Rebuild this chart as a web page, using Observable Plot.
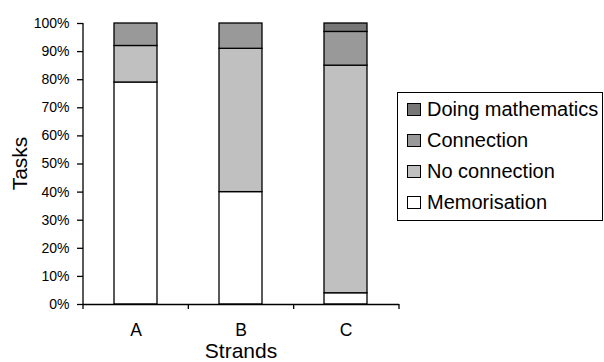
<!DOCTYPE html>
<html>
<head>
<meta charset="utf-8">
<script src="https://cdn.jsdelivr.net/npm/d3@7"></script>
<script src="https://cdn.jsdelivr.net/npm/@observablehq/plot@0.6"></script>
<style>
  body { margin: 0; background: #fff; font-family: "Liberation Sans", Arial, sans-serif; }
  #wrap { position: relative; width: 604px; height: 362px; }
  #legend { position: absolute; left: 397px; top: 92px; width: 206px; height: 129px; border: 1px solid #000; background: #fff; box-sizing: border-box; padding-top: 1px; }
  .item { display: flex; align-items: center; height: 31px; font-size: 20px; color: #000; white-space: nowrap; }
  .sw { width: 14px; height: 13px; border: 1px solid #000; margin-left: 9px; margin-right: 6px; box-sizing: border-box; }
</style>
</head>
<body>
<div id="wrap"><div id="legend"></div></div>
<script>
const strands = ["A", "B", "C"];
const categories = ["Memorisation", "No connection", "Connection", "Doing mathematics"];
const memorisation = [79, 40, 4];
const noConnection = [13, 51, 81];
const connection = [8, 9, 12];
const doingMathematics = [0, 0, 3];
const colors = ["#ffffff", "#c0c0c0", "#999999", "#777777"];
const yTicks = [0, 10, 20, 30, 40, 50, 60, 70, 80, 90, 100];

const series = [memorisation, noConnection, connection, doingMathematics];
const data = [];
strands.forEach((s, i) => {
  categories.forEach((c, j) => {
    if (series[j][i] > 0) data.push({strand: s, category: c, value: series[j][i]});
  });
});

const plot = Plot.plot({
  width: 604,
  height: 362,
  marginLeft: 83,
  marginRight: 205,
  marginTop: 23,
  marginBottom: 58,
  style: {fontFamily: "'Liberation Sans', Arial, sans-serif", fontSize: "14px", color: "#000", background: "#fff"},
  x: {domain: strands, paddingInner: 0.59, paddingOuter: 0.295, label: null},
  y: {domain: [0, 100], label: null},
  color: {domain: categories, range: colors},
  marks: [
    Plot.barY(data, {x: "strand", y: "value", fill: "category", order: categories, stroke: "#000", strokeWidth: 1.3}),
    Plot.ruleY([0], {stroke: "#000", strokeWidth: 1.3}),
    Plot.axisY({ticks: yTicks, tickFormat: d => d + "%", tickSize: 6, tickPadding: 8, fontSize: 14, strokeWidth: 1.3}),
    Plot.axisX({tickSize: 0, tickPadding: 19, fontSize: 17.5})
  ]
});

// axis line and band-boundary ticks using the plot's own scales
const svg = d3.select(plot.tagName === "svg" ? plot : plot.querySelector("svg"));
const xs = plot.scale("x");
const [r0, r1] = xs.range;
const y0 = 362 - 58, yTop = 23;
const g = svg.append("g").attr("stroke", "#000").attr("stroke-width", 1.3);
g.append("line").attr("x1", r0).attr("x2", r0).attr("y1", yTop).attr("y2", y0);
for (let i = 0; i <= strands.length; i++) {
  const xb = r0 + (r1 - r0) * i / strands.length;
  g.append("line").attr("x1", xb).attr("x2", xb).attr("y1", y0).attr("y2", y0 + 5);
}
svg.append("text").attr("transform", `translate(27,${(yTop + y0) / 2}) rotate(-90)`)
  .attr("text-anchor", "middle").attr("font-size", 21).attr("fill", "#000").text("Tasks");
svg.append("text").attr("x", (r0 + r1) / 2).attr("y", 358)
  .attr("text-anchor", "middle").attr("font-size", 21).attr("fill", "#000").text("Strands");

document.getElementById("wrap").prepend(plot);

const legend = d3.select("#legend");
[...categories].reverse().forEach(c => {
  const item = legend.append("div").attr("class", "item");
  item.append("div").attr("class", "sw").style("background", colors[categories.indexOf(c)]);
  item.append("span").text(c);
});
</script>
</body>
</html>
